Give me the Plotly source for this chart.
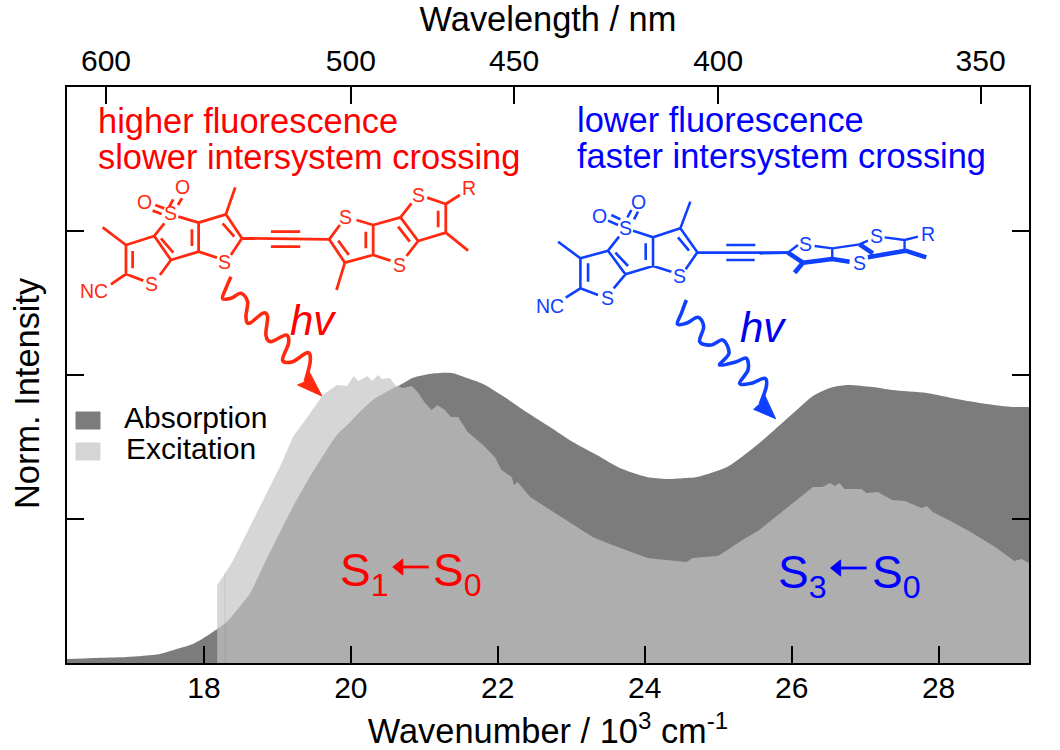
import plotly.graph_objects as go

# ---- data ----
abs_x = [16.136,16.49,16.95,17.40,17.63,17.85,18.04,18.18,18.31,18.45,18.63,18.80,19.03,19.21,19.44,19.67,19.81,19.99,20.08,
         20.30,20.53,20.67,20.84,21.07,21.37,21.58,21.80,22.07,22.39,22.71,23.02,23.35,23.66,24.03,24.30,24.57,24.71,25.12,
         25.39,25.61,25.84,26.07,26.29,26.52,26.75,27.10,27.37,27.84,28.25,28.65,29.01,29.231]
abs_y = [4,5,6,9,14,19,27,34,41,53,70,96,130,156,186,213,228,241,248,
         263,273,278,285,289,290,285,279,267,251,236,221,208,195,186,184,185,186,196,
         210,223,238,253,267,275,278,276,273,270,264,259,256,256]
exc_x = [18.18,18.26,18.30,18.40,18.52,18.67,18.80,18.93,19.06,19.21,19.35,19.48,19.62,19.81,19.95,20.04,20.10,20.23,20.29,20.37,
         20.42,20.53,20.60,20.71,20.83,20.91,21.01,21.10,21.18,21.28,21.36,21.46,21.59,21.80,21.96,22.05,22.19,22.22,22.27,22.44,
         22.61,22.84,23.02,23.29,23.56,23.84,24.04,24.16,24.48,24.57,24.65,24.98,25.02,25.33,25.56,25.80,26.01,26.29,26.42,26.52,
         26.59,26.65,26.72,26.95,27.02,27.17,27.37,27.54,27.77,27.84,27.92,28.19,28.46,28.79,29.03,29.13,29.231]
exc_y = [78,86,91,103,121,143,163,181,200,226,240,253,268,278,277,287,282,287,282,288,
         284,285,278,275,277,271,260,253,258,253,246,246,231,218,206,193,186,178,181,166,
         158,147,138,126,118,110,105,104,102,101,105,107,108,123,133,147,160,176,176,180,
         177,180,174,174,170,171,163,162,155,157,151,141,130,115,102,104,100]
wavenumber_ticks = [18,20,22,24,26,28]
wavelength_ticks = [600,500,450,400,350]
intensity_ticks = [0,144,288,432,576]

FONT = "Liberation Sans"
L, R, T, B = 67, 1029.5, 87, 663
RED, BLUE = "#ff2a10", "#1040ff"

def P(x, y):
    return (x - L) / (R - L), (B - y) / (B - T)

def path_str(pts):
    return "M" + " L".join(f"{a:.5f},{b:.5f}" for a, b in (P(*p) for p in pts))

def line_path(bonds, ox, oy):
    return " ".join(path_str([(ox+a/3, oy+b/3), (ox+c/3, oy+d/3)]) for a, b, c, d in bonds)

def smooth(pts, ox, oy):
    q = [(ox+a/3, oy+b/3) for a, b in pts]
    s = "M{:.5f},{:.5f}".format(*P(*q[0]))
    for i in range(len(q)-1):
        p0, p1, p2, p3 = q[max(i-1,0)], q[i], q[i+1], q[min(i+2,len(q)-1)]
        c1 = (p1[0]+(p2[0]-p0[0])/6, p1[1]+(p2[1]-p0[1])/6)
        c2 = (p2[0]-(p3[0]-p1[0])/6, p2[1]-(p3[1]-p1[1])/6)
        s += " C{:.5f},{:.5f} {:.5f},{:.5f} {:.5f},{:.5f}".format(*P(*c1), *P(*c2), *P(*p2))
    return s

def poly(pts, ox, oy):
    return path_str([(ox+a/3, oy+b/3) for a, b in pts]) + " Z"

def sh_line(path, color, w):
    return dict(type="path", xref="paper", yref="paper", path=path, line=dict(color=color, width=w), layer="above")

def sh_fill(path, color):
    return dict(type="path", xref="paper", yref="paper", path=path, fillcolor=color, line=dict(color=color, width=1), layer="above")

def text(px, py, s, color="black", size=30, anchor="left", italic=False, angle=0):
    x, y = P(px, py)
    return dict(xref="paper", yref="paper", x=x, y=y, text=(f"<i>{s}</i>" if italic else s), showarrow=False,
                xanchor=anchor, yanchor="middle", borderpad=0, textangle=angle,
                font=dict(family=FONT, size=size, color=color))

def left_arrow(tip, end, y, color):
    return [sh_line(path_str([(tip + 8, y), (end, y)]), color, 2.8),
            sh_fill(path_str([(tip, y), (tip + 10, y - 8), (tip + 10, y + 8)]) + " Z", color)]

# molecule outlines, in crop coordinates of each molecule
red_left = [(110,172,180,225),(180,225,265,198),(180,225,180,312),(200,243,200,295),(180,312,232,332),(180,312,135,343),
            (282,315,315,270),(265,198,315,270),(285,205,322,248),(265,198,295,160),(337,140,398,158),(315,270,398,245),
            (398,158,398,245),(378,178,378,228),(398,158,480,133),(480,133,508,52),(480,133,528,205),(470,160,505,200),
            (528,205,495,255),(398,245,453,263),(528,205,790,208),(615,185,703,185),(615,230,703,230),
            (268,105,295,115),(260,122,287,132),(322,88,310,110),(348,85,336,105)]
red_right = [(88,208,120,165),(88,208,135,278),(115,212,147,255),(135,278,110,360),(135,278,220,255),(220,255,220,165),
             (198,185,198,235),(170,150,220,165),(220,165,302,142),(220,255,272,272),(320,258,355,213),(302,142,355,213),
             (295,170,330,215),(302,142,335,100),(382,83,438,102),(438,102,438,188),(415,122,415,172),(438,188,355,213),
             (438,188,505,242),(438,102,480,75)]
blue_main = [(85,185,152,235),(152,235,235,212),(152,235,152,325),(175,250,175,305),(152,325,205,345),(152,325,108,353),
             (252,325,287,283),(235,212,287,283),(257,218,295,258),(235,212,268,170),(310,152,370,172),(287,283,370,258),
             (370,172,370,258),(348,190,348,240),(370,172,452,145),(452,145,482,65),(452,145,503,217),(445,172,478,212),
             (503,217,468,268),(370,258,425,275),(503,217,775,218),(590,195,677,195),(590,240,675,240),
             (235,122,265,135),(245,105,272,118),(293,112,305,90),(313,118,325,95)]
blue_thin = [(85,98,115,75),(165,78,218,85),(218,85,218,117),(218,85,300,73),(300,73,325,62),(375,52,435,60),
             (435,60,435,92),(435,60,475,50)]
blue_thick = [(85,98,130,128),(130,128,105,158),(130,128,218,117),(218,117,270,125),(300,73,340,100),(325,112,438,92),(438,92,500,112)]

red_wave = [(495,320),(480,355),(470,385),(495,385),(525,370),(545,395),(540,440),(550,460),(590,430),(605,440),(600,495),
            (615,515),(660,495),(668,520),(650,570),(680,575),(725,548),(733,575),(718,635)]
red_head = [(695,645),(768,678),(730,605),(718,635)]
blue_wave = [(470,360),(455,400),(443,432),(470,430),(505,412),(522,440),(510,485),(545,495),(580,480),(598,520),(570,555)
             ,(620,545),(650,535),(655,570),(630,610),(665,610),(705,595),(710,620),(692,672)]
blue_head = [(672,688),(738,716),(705,645),(690,672)]

shapes = [
    sh_fill(path_str([(76,412),(100,412),(100,429),(76,429)]) + " Z", "#7c7c7c"),
    sh_fill(path_str([(76,443),(100,443),(100,460),(76,460)]) + " Z", "#d5d5d5"),
    dict(type="rect", xref="paper", yref="paper", x0=P(224,0)[0], x1=P(226,0)[0], y0=0, y1=P(0,573)[1],
         fillcolor="rgba(0,0,0,0.04)", line=dict(width=0), layer="above"),
    sh_line(line_path(red_left, 66, 170), RED, 2.8),
    sh_line(line_path(red_right, 300, 170), RED, 2.8),
    sh_line(line_path(blue_main, 530, 180), BLUE, 2.6),
    sh_line(line_path(blue_thin, 760, 220), BLUE, 2.4),
    sh_line(line_path(blue_thick, 760, 220), BLUE, 4.6),
    sh_line(line_path([(0,100,85,98)], 760, 220), BLUE, 2.6),
    sh_line(smooth(red_wave, 66, 170), RED, 3.6),
    sh_fill(poly(red_head, 66, 170), RED),
    sh_line(smooth(blue_wave, 530, 180), BLUE, 3.6),
    sh_fill(poly(blue_head, 530, 180), BLUE),
    *left_arrow(393, 429, 567, "#ff0000"),
    *left_arrow(831, 867, 568, "#0000ff"),
]

annotations = [
    text(27, 393, "Norm. Intensity", size=34.4, anchor="center", angle=-90),
    text(97, 121, "higher fluorescence", "#ff0000", 34.4),
    text(97, 157, "slower intersystem crossing", "#ff0000", 34.4),
    text(576, 120, "lower fluorescence", "#0000ff", 34.4),
    text(576, 156, "faster intersystem crossing", "#0000ff", 34.4),
    text(123, 417, "Absorption", size=30),
    text(125, 448, "Excitation", size=30),
    text(339, 573, "S<sub>1</sub>", "#ff0000", 46),
    text(432, 573, "S<sub>0</sub>", "#ff0000", 46),
    text(777, 575, "S<sub>3</sub>", "#0000ff", 46),
    text(871, 575, "S<sub>0</sub>", "#0000ff", 46),
    text(314, 320, "hv", "#ff0000", 42, "center", True),
    text(764, 327, "hv", "#0000ee", 42, "center", True),
]
for ox, oy, c, items in [
    (66, 170, RED, [("S",315,130),("O",235,95),("O",350,52),("S",258,342),("S",477,275),("NC",85,363)]),
    (300, 170, RED, [("S",138,142),("S",300,285),("S",355,75),("R",508,55)]),
    (530, 180, BLUE, [("S",288,145),("O",210,107),("O",325,65),("S",233,353),("S",450,288),("NC",60,378)]),
    (760, 220, BLUE, [("S",138,72),("S",300,130),("S",352,47),("R",505,42)]),
]:
    for s, a, b in items:
        annotations.append(text(ox+a/3, oy+b/3, s, c, 19.5, "center"))

fig = go.Figure()
fig.add_trace(go.Scatter(x=abs_x, y=abs_y, name="Absorption", mode="lines", fill="tozeroy",
                         fillcolor="#7c7c7c", line=dict(width=0, shape="spline", smoothing=0.7), showlegend=False, hoverinfo="skip"))
fig.add_trace(go.Scatter(x=exc_x, y=exc_y, name="Excitation", mode="lines", fill="tozeroy",
                         fillcolor="rgba(196,196,196,0.695)", line=dict(width=0), showlegend=False, hoverinfo="skip"))
# invisible trace that activates the top axis
fig.add_trace(go.Scatter(x=[abs_x[0]], y=[0], xaxis="x2", mode="lines", line=dict(width=0), showlegend=False, hoverinfo="skip"))

axis_common = dict(showgrid=False, zeroline=False, showline=True, linecolor="black", linewidth=2,
                   ticks="inside", ticklen=17, tickwidth=2, tickcolor="black", automargin=False,
                   tickfont=dict(family=FONT, size=30, color="black"))
x_range = [abs_x[0], abs_x[-1]]
fig.update_layout(
    width=1060, height=750, margin=dict(l=L, r=1060-R, t=T, b=750-B),
    paper_bgcolor="white", plot_bgcolor="white", showlegend=False,
    xaxis=dict(range=x_range, tickvals=wavenumber_ticks, ticktext=[str(v) for v in wavenumber_ticks],
               ticklabelstandoff=-3,
               title=dict(text="Wavenumber / 10<sup>3</sup> cm<sup>-1</sup>", font=dict(family=FONT, size=34.4, color="black"), standoff=20),
               **axis_common),
    xaxis2=dict(range=x_range, overlaying="x", side="top", tickvals=[1e4/w for w in wavelength_ticks],
                ticktext=[str(w) for w in wavelength_ticks], ticklabelstandoff=2,
                title=dict(text="Wavelength / nm", font=dict(family=FONT, size=34.4, color="black"), standoff=22),
                **axis_common),
    yaxis=dict(range=[intensity_ticks[0], intensity_ticks[-1]], tickvals=intensity_ticks, showticklabels=False, mirror="ticks",
               **axis_common),
    shapes=shapes, annotations=annotations,
)
fig.write_html("out.html", post_script="document.body.style.margin='0';", config=dict(displayModeBar=False))
